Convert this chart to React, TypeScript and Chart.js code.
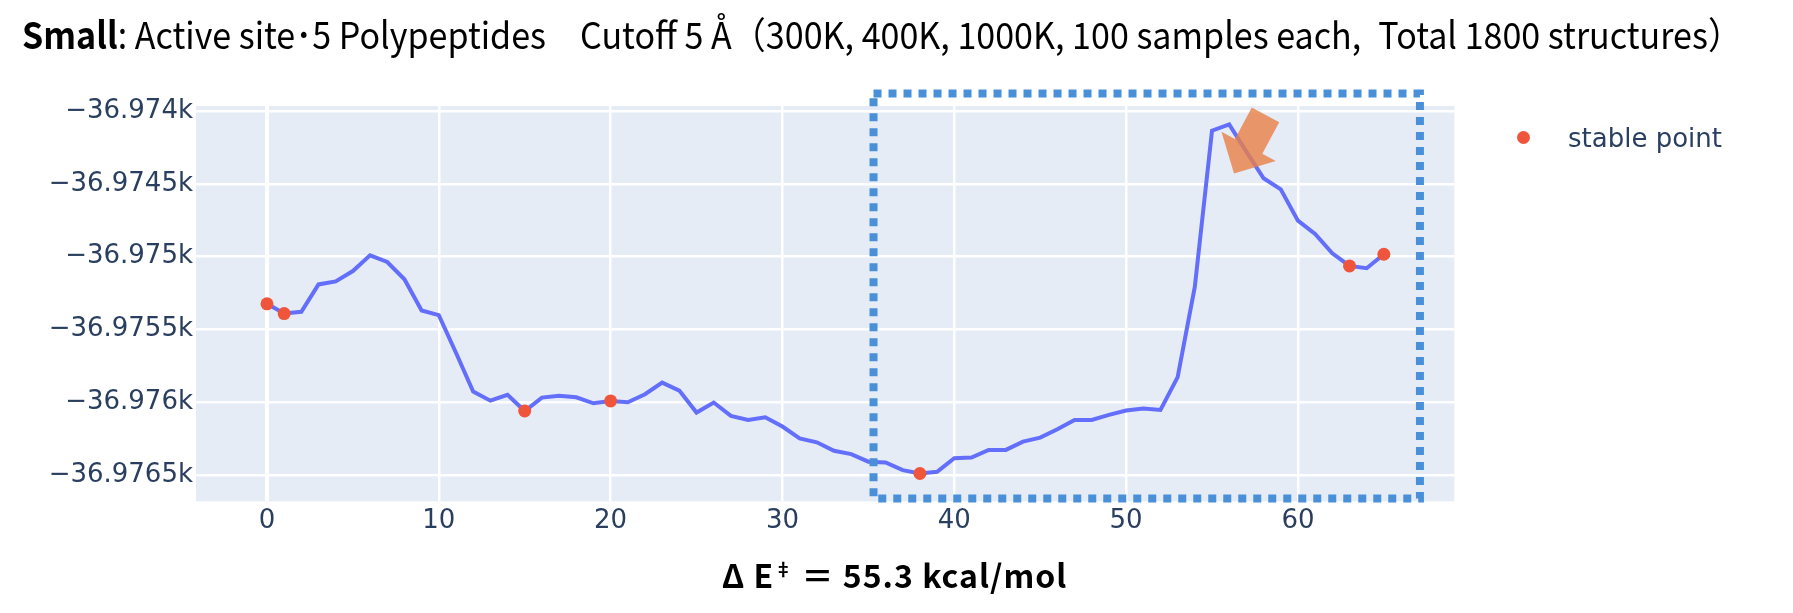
import React, { useEffect, useLayoutEffect, useRef } from 'react';
import { Chart, registerables } from 'chart.js';
import type { Plugin } from 'chart.js';

Chart.register(...registerables);

// Energy per step (array index = step)
const energy: number[] = [
    -36975.324, -36975.391, -36975.379, -36975.191, -36975.170, -36975.099, -36974.991, -36975.037,
    -36975.156, -36975.370, -36975.402, -36975.660, -36975.926, -36975.989, -36975.949, -36976.060,
    -36975.968, -36975.956, -36975.966, -36976.007, -36975.991, -36976.000, -36975.945, -36975.865,
    -36975.920, -36976.071, -36976.002, -36976.094, -36976.122, -36976.103, -36976.167, -36976.248,
    -36976.275, -36976.333, -36976.356, -36976.408, -36976.413, -36976.466, -36976.489, -36976.477,
    -36976.384, -36976.380, -36976.327, -36976.327, -36976.270, -36976.243, -36976.185, -36976.121,
    -36976.121, -36976.087, -36976.057, -36976.043, -36976.053, -36975.828, -36975.206, -36974.135,
    -36974.092, -36974.279, -36974.462, -36974.538, -36974.753, -36974.844, -36974.977, -36975.064,
    -36975.080, -36974.984
];

// Steps marked as stable points
const stableSteps: number[] = [0, 1, 15, 20, 38, 63, 65];

// Tick values
const xTicks: number[] = [0, 10, 20, 30, 40, 50, 60];
const yTicks: number[] = [-36976.5, -36976, -36975.5, -36975, -36974.5, -36974];

// Highlighted region (data units) and arrow tip
const regionX: number[] = [35.3, 67.1];
const regionY: number[] = [-36976.66, -36973.88];
const arrowTip = { x: 56.28, y: -36974.43 };

const TICK_COLOR = '#2a3f5f';
const TICK_FONT = { family: 'DejaVu Sans', size: 26 };

// "-36.9745k" style labels
const formatK = (v: number) =>
    (v / 1000).toFixed(4).replace(/0+$/, '').replace(/\.$/, '').replace('-', '\u2212') + 'k';

// Plot background
const plotBgPlugin: Plugin<'line'> = {
    id: 'plotBg',
    beforeDraw(chart) {
        const { ctx, chartArea } = chart;
        ctx.save();
        ctx.fillStyle = '#e5ecf6';
        ctx.fillRect(chartArea.left, chartArea.top, chartArea.right - chartArea.left, chartArea.bottom - chartArea.top);
        ctx.restore();
    }
};

// Dotted box + orange arrow on top of the data
const annotationPlugin: Plugin<'line'> = {
    id: 'annotations',
    afterDatasetsDraw(chart) {
        const { ctx } = chart;
        const xs = chart.scales.x;
        const ys = chart.scales.y;

        const x0 = xs.getPixelForValue(regionX[0]);
        const x1 = xs.getPixelForValue(regionX[1]);
        const y0 = ys.getPixelForValue(regionY[1]);
        const y1 = ys.getPixelForValue(regionY[0]);

        ctx.save();
        ctx.strokeStyle = '#4a90d9';
        ctx.lineWidth = 8;
        ctx.setLineDash([8, 7]);
        ctx.strokeRect(x0, y0, x1 - x0, y1 - y0);
        ctx.restore();

        // arrow pointing down-left at the peak
        const tx = xs.getPixelForValue(arrowTip.x);
        const ty = ys.getPixelForValue(arrowTip.y);
        const ang = Math.atan2(58.8, -31.5);
        const dx = Math.cos(ang), dy = Math.sin(ang);
        const nx = -dy, ny = dx;
        const total = 66.7, headLen = 30.9, headW = 61.6, shaftW = 31.1;
        const bx = tx - dx * headLen, by = ty - dy * headLen;
        const ax = tx - dx * total, ay = ty - dy * total;

        ctx.save();
        ctx.globalAlpha = 0.8;
        ctx.fillStyle = 'rgb(233,128,71)';
        ctx.beginPath();
        ctx.moveTo(ax + nx * shaftW / 2, ay + ny * shaftW / 2);
        ctx.lineTo(bx + nx * shaftW / 2, by + ny * shaftW / 2);
        ctx.lineTo(bx + nx * headW / 2, by + ny * headW / 2);
        ctx.lineTo(tx, ty);
        ctx.lineTo(bx - nx * headW / 2, by - ny * headW / 2);
        ctx.lineTo(bx - nx * shaftW / 2, by - ny * shaftW / 2);
        ctx.lineTo(ax - nx * shaftW / 2, ay - ny * shaftW / 2);
        ctx.closePath();
        ctx.fill();
        ctx.restore();
    }
};

const App: React.FC = () => {
    const canvasRef = useRef<HTMLCanvasElement | null>(null);
    const titleRef = useRef<HTMLSpanElement | null>(null);

    // Squeeze the title to the width it has in the original
    useLayoutEffect(() => {
        document.body.style.margin = '0';
        const el = titleRef.current;
        if (!el) return;
        const w = el.offsetWidth;
        if (w > 0) el.style.transform = `scaleX(${1720 / w})`;
    }, []);

    useEffect(() => {
        const ctx = canvasRef.current?.getContext('2d');
        if (!ctx) return;

        const linePoints = energy.map((y, i) => ({ x: i, y }));
        const stablePoints = stableSteps.map(s => ({ x: s, y: energy[s] }));

        const chart = new Chart(ctx, {
            type: 'line',
            data: {
                datasets: [
                    {
                        label: 'stable point',
                        data: stablePoints,
                        showLine: false,
                        pointRadius: 6.5,
                        pointBackgroundColor: '#ef553b',
                        pointBorderWidth: 0
                    },
                    {
                        label: 'energy',
                        data: linePoints,
                        borderColor: '#636efa',
                        borderWidth: 4,
                        pointRadius: 0,
                        tension: 0,
                        fill: false
                    }
                ]
            },
            options: {
                animation: false,
                responsive: true,
                maintainAspectRatio: false,
                layout: { padding: { top: 106, right: 338.7, left: 0, bottom: 0 } },
                plugins: {
                    legend: { display: false },
                    tooltip: { enabled: false }
                },
                scales: {
                    x: {
                        type: 'linear',
                        min: -4.13,
                        max: 69.1,
                        afterBuildTicks: (s: any) => { s.ticks = xTicks.map(v => ({ value: v })); },
                        afterFit: (s: any) => { s.height = 111.7; },
                        grid: {
                            color: '#ffffff',
                            lineWidth: (c: any) => (c.tick && c.tick.value === 0 ? 4 : 2.5),
                            drawTicks: false
                        },
                        border: { display: false },
                        ticks: { color: TICK_COLOR, font: TICK_FONT, padding: 4, maxRotation: 0 }
                    },
                    y: {
                        type: 'linear',
                        min: -36976.68,
                        max: -36973.966,
                        afterBuildTicks: (s: any) => { s.ticks = yTicks.map(v => ({ value: v })); },
                        afterFit: (s: any) => { s.width = 196; },
                        grid: { color: '#ffffff', lineWidth: 2.5, drawTicks: false },
                        border: { display: false },
                        ticks: {
                            color: TICK_COLOR,
                            font: TICK_FONT,
                            padding: 3,
                            callback: (v: any) => formatK(Number(v))
                        }
                    }
                }
            },
            plugins: [plotBgPlugin, annotationPlugin]
        });

        return () => chart.destroy();
    }, []);

    return (
        <div style={{ position: 'relative', width: 1793, height: 613, background: '#fff', overflow: 'hidden' }}>
            <canvas ref={canvasRef} style={{ position: 'absolute', left: 0, top: 0, width: 1793, height: 613 }} />

            {/* Title */}
            <div style={{ position: 'absolute', left: 21.7, top: 15, whiteSpace: 'nowrap' }}>
                <span
                    ref={titleRef}
                    style={{
                        display: 'inline-block',
                        transformOrigin: 'left center',
                        fontFamily: '"Noto Sans CJK JP", sans-serif',
                        fontSize: 37,
                        lineHeight: '37px',
                        color: '#000',
                        whiteSpace: 'pre'
                    }}
                >
                    <b>Small</b>: Active site{'\uff65'}5 Polypeptides{'\u3000'}Cutoff 5 Å（300K, 400K, 1000K, 100 samples each,{'\u2002'}Total 1800 structures）
                </span>
            </div>

            {/* Legend */}
            <div style={{ position: 'absolute', left: 1516.8, top: 131.2, width: 13, height: 13, borderRadius: '50%', background: '#ef553b' }} />
            <div
                style={{
                    position: 'absolute',
                    left: 1568,
                    top: 125.3,
                    fontFamily: '"DejaVu Sans", sans-serif',
                    fontSize: 26,
                    lineHeight: '26px',
                    color: TICK_COLOR,
                    whiteSpace: 'nowrap'
                }}
            >
                stable point
            </div>

            {/* x-axis title */}
            <div
                style={{
                    position: 'absolute',
                    left: 0,
                    width: 1789,
                    top: 558.6,
                    textAlign: 'center',
                    fontFamily: '"Noto Sans CJK JP", sans-serif',
                    fontWeight: 700,
                    fontSize: 32,
                    lineHeight: '31px',
                    letterSpacing: 1,
                    color: '#000',
                    whiteSpace: 'pre'
                }}
            >
                Δ E<sup style={{ fontSize: 18, verticalAlign: 'top', lineHeight: '18px' }}>‡</sup> ＝ 55.3 kcal/mol
            </div>
        </div>
    );
};

export default App;
